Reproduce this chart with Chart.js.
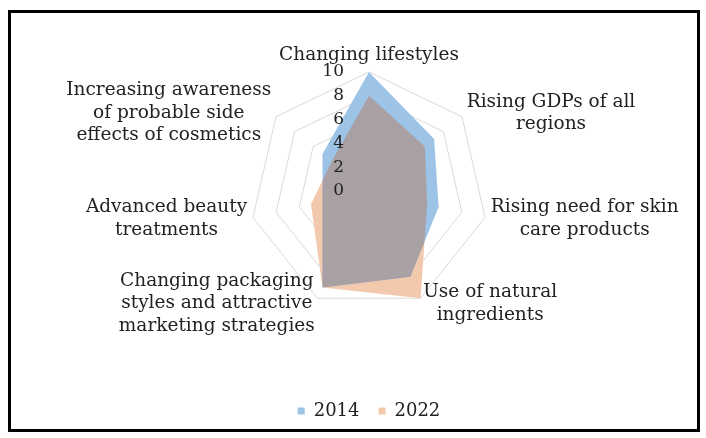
<!DOCTYPE html>
<html>
<head>
<meta charset="utf-8">
<script src="https://cdn.jsdelivr.net/npm/chart.js@4.4.1/dist/chart.umd.min.js"></script>
<style>
  html, body { margin: 0; padding: 0; background: #fff; }
  #frame {
    position: absolute; left: 8px; top: 10px; width: 692px; height: 422px;
    border: 3px solid #000; box-sizing: border-box;
  }
  #radar { position: absolute; left: 0; top: 0; }
</style>
</head>
<body>
<div id="frame"></div>
<canvas id="radar" width="706" height="438"></canvas>
<script>
// axis names, wrapped the way they are printed
const categories = [
  ['Changing lifestyles'],
  ['Rising GDPs of all', 'regions'],
  ['Rising need for skin', 'care products'],
  ['Use of natural', 'ingredients'],
  ['Changing packaging', 'styles and attractive', 'marketing strategies'],
  ['Advanced beauty', 'treatments'],
  ['Increasing awareness', 'of probable side', 'effects of cosmetics']
];
const years = ['2014', '2022'];
const values2014 = [10, 7, 6, 8, 9, 4, 5];
const values2022 = [8, 6, 5, 10, 9, 5, 4];
const tickValues = [0, 2, 4, 6, 8, 10];

const BLUE = '#9dc3e6';
const PEACH = '#f2c9ac';
const OVERLAP = '#a8a0a2';
const TEXT = '#222222';
const FONT = '"DejaVu Serif", serif';

// fill the area both years share in grey, then put axis texts on top
const overlapAndLabels = {
  id: 'overlapAndLabels',
  afterDatasetsDraw(chart) {
    const ctx = chart.ctx;
    const a = chart.getDatasetMeta(0).data;
    const b = chart.getDatasetMeta(1).data;
    const trace = pts => {
      ctx.beginPath();
      pts.forEach((p, i) => i ? ctx.lineTo(p.x, p.y) : ctx.moveTo(p.x, p.y));
      ctx.closePath();
    };
    ctx.save();
    trace(a);
    ctx.clip();
    trace(b);
    ctx.fillStyle = OVERLAP;
    ctx.fill();
    ctx.restore();

    const r = chart.scales.r;
    ctx.save();
    ctx.fillStyle = TEXT;

    // value ticks, left of the vertical axis
    ctx.font = '17px ' + FONT;
    ctx.textAlign = 'right';
    ctx.textBaseline = 'middle';
    tickValues.forEach(v => {
      const y = r.yCenter - r.getDistanceFromCenterForValue(v);
      ctx.fillText(String(v), r.xCenter - 25, y);
    });

    // category names around the web
    ctx.font = '18.5px ' + FONT;
    ctx.textAlign = 'center';
    const lh = 22.5;
    categories.forEach((lines, i) => {
      const p = r.getPointPosition(i, r.drawingArea + 6);
      const w = Math.max(...lines.map(t => ctx.measureText(t).width));
      const h = lines.length * lh;
      const dx = p.x - r.xCenter;
      let cx, top;
      if (Math.abs(dx) < 2) {
        cx = p.x;
        top = p.y - h;
      } else {
        cx = dx > 0 ? p.x + w / 2 : p.x - w / 2;
        top = p.y - h / 2;
      }
      lines.forEach((t, k) => ctx.fillText(t, cx, top + lh * (k + 0.5)));
    });
    ctx.restore();
  }
};

new Chart(document.getElementById('radar'), {
  type: 'radar',
  data: {
    labels: categories,
    datasets: [
      { label: years[0], data: values2014, backgroundColor: BLUE, borderWidth: 0, pointRadius: 0, fill: true },
      { label: years[1], data: values2022, backgroundColor: PEACH, borderWidth: 0, pointRadius: 0, fill: true }
    ]
  },
  options: {
    responsive: false,
    animation: false,
    devicePixelRatio: 1,
    layout: { padding: { left: 250, right: 218, top: 0, bottom: 8 } },
    scales: {
      r: {
        min: 0,
        max: 10,
        ticks: { stepSize: 2, display: false },
        grid: { color: '#d9d9d9', lineWidth: 1 },
        angleLines: { display: false },
        pointLabels: { display: false }
      }
    },
    plugins: {
      tooltip: { enabled: false },
      legend: {
        position: 'bottom',
        labels: {
          boxWidth: 7,
          boxHeight: 7,
          padding: 19,
          color: TEXT,
          font: { family: FONT, size: 18 }
        }
      }
    }
  },
  plugins: [overlapAndLabels]
});
</script>
</body>
</html>
